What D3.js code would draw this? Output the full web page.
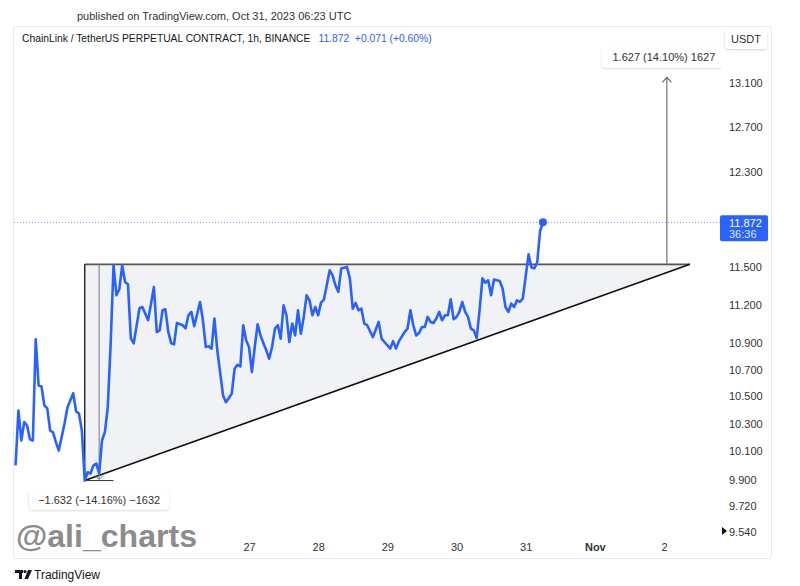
<!DOCTYPE html>
<html><head><meta charset="utf-8">
<script src="https://cdn.jsdelivr.net/npm/d3@7"></script>
<style>
html,body{margin:0;padding:0;background:#fff;}
svg{display:block;font-family:"Liberation Sans",Arial,sans-serif;}
</style></head><body>
<svg id="chart" width="800" height="586"></svg>
<script>
// ---------- data ----------
const startTime = Date.UTC(2023, 9, 23, 15); // first hourly bar
const hours = [0,1,2,3,4,5,6,7,8,9,10,11,12,13,14,15,17,18,20,21,22,23,24,25,26,27,28,29,30,31,32,33,34,35,36,37,38,39,40,41,43,44,46,48,49,50,51,52,53,54,55,56,58,59,60,61,62,64,65,66,67,68,69,70,72,73,75,76,77,78,79,80,81,82,83,84,85,86,87,88,89,90,91,92,93,94,95,96,97,98,99,100,101,102,103,104,105,106,107,109,110,111,112,113,115,116,117,118,119,120,121,122,124,126,127,128,130,131,132,133,135,136,137,138,139,140,141,142,143,144,145,146,147,148,149,150,151,152,153,154,155,156,157,158,159,160,161,162,163,164,165,166,167,168,169,170,171,172,173,174,175,176,177,178,179,180,181,182,183];
const prices = [10.00,10.395,10.177,10.31,10.285,10.184,10.177,10.931,10.58,10.573,10.432,10.41,10.249,10.235,10.165,10.105,10.30,10.417,10.523,10.388,10.373,10.249,9.893,9.951,9.942,9.998,10.013,9.944,10.177,10.237,10.42,10.90,11.517,11.276,11.324,11.517,11.382,11.364,10.938,10.90,11.173,11.183,11.079,11.342,10.987,11.00,11.157,11.165,10.987,10.90,10.892,11.058,11.04,11.016,11.118,11.144,11.032,11.223,11.079,10.872,10.877,10.859,11.092,10.846,10.506,10.456,10.518,10.706,10.736,10.723,11.04,10.923,10.872,10.68,10.872,11.048,10.961,10.90,10.846,10.782,10.872,11.013,11.04,10.936,11.196,11.118,10.91,11.053,10.961,11.157,10.974,11.105,11.276,11.236,11.118,11.183,11.118,11.218,11.242,11.477,11.436,11.356,11.303,11.491,11.504,11.412,11.17,11.215,11.157,11.17,11.053,11.04,10.948,11.066,10.936,10.91,10.859,10.917,10.859,10.915,10.987,11.013,11.157,11.04,10.961,10.979,11.026,11.026,11.105,11.066,11.058,11.092,11.144,11.079,11.118,11.118,11.244,11.087,11.105,11.144,11.223,11.144,11.105,11.013,11.00,10.94,11.157,11.412,11.377,11.396,11.276,11.402,11.396,11.391,11.33,11.183,11.144,11.21,11.183,11.236,11.223,11.25,11.425,11.607,11.50,11.493,11.54,11.80,11.872];

const priceTicks = [13.1, 12.7, 12.3, 11.5, 11.2, 10.9, 10.7, 10.5, 10.3, 10.1, 9.9, 9.72, 9.54];
const dayTicks = [Date.UTC(2023,9,27), Date.UTC(2023,9,28), Date.UTC(2023,9,29), Date.UTC(2023,9,30), Date.UTC(2023,9,31), Date.UTC(2023,10,1), Date.UTC(2023,10,2)];
const dayLabels = ["27", "28", "29", "30", "31", "Nov", "2"];

const triangleTimes = [Date.UTC(2023,9,24,15), Date.UTC(2023,10,2,9), Date.UTC(2023,9,24,15)];
const trianglePrices = [11.525, 11.525, 9.893];

const upMeasureTime = Date.UTC(2023, 10, 2, 1);
const upMeasurePrices = [11.525, 13.152];
const upMeasureLabel = "1.627 (14.10%) 1627";

const downMeasureTimes = [Date.UTC(2023,9,24,15), Date.UTC(2023,9,24,20), Date.UTC(2023,9,25,1)];
const downMeasurePrices = [11.525, 9.893];
const downMeasureLabel = "\u22121.632 (\u221214.16%) \u22121632";

const lastPrice = 11.872;
const countdown = "36:36";
const headerText = "published on TradingView.com, Oct 31, 2023 06:23 UTC";
const titleText = "ChainLink / TetherUS PERPETUAL CONTRACT, 1h, BINANCE";
const titleQuote = "11.872  +0.071 (+0.60%)";

// ---------- layout ----------
const svg = d3.select("#chart");
const pane = {left: 14, right: 721, top: 27, bottom: 536};
const BLUE = "#2962ff";
const TEXT = "#131722";

const x = d3.scaleUtc().domain([dayTicks[0], dayTicks[6]]).range([249, 664]);
const y = d3.scaleLog().domain([9.54, 13.1]).range([532, 83]);

const data = hours.map((h, i) => ({t: new Date(startTime + h * 3600e3), p: prices[i]}));

// frame
svg.append("rect").attr("x", 13.5).attr("y", 26.5).attr("width", 758).attr("height", 532)
  .attr("rx", 3).attr("fill", "#fff").attr("stroke", "#e6e8ee");

// header
svg.append("text").attr("x", 77).attr("y", 20).attr("font-size", 11).attr("fill", "#333")
  .text(headerText);
const title = svg.append("text").attr("x", 22).attr("y", 42).attr("font-size", 10.3).attr("fill", TEXT);
title.append("tspan").text(titleText);
title.append("tspan").attr("dx", 8).attr("fill", BLUE).attr("xml:space", "preserve").text(titleQuote);

// clip
svg.append("defs").append("clipPath").attr("id", "pane")
  .append("rect").attr("x", pane.left).attr("y", pane.top)
  .attr("width", pane.right - pane.left).attr("height", pane.bottom - pane.top);
svg.select("defs").append("clipPath").attr("id", "scale")
  .append("rect").attr("x", pane.right).attr("y", pane.top)
  .attr("width", 50).attr("height", pane.bottom - pane.top);
svg.select("defs").append("filter").attr("id", "sh").attr("x", "-20%").attr("y", "-40%").attr("width", "140%").attr("height", "180%")
  .append("feDropShadow").attr("dx", 0).attr("dy", 1).attr("stdDeviation", 1.2).attr("flood-color", "#000").attr("flood-opacity", 0.18);

const g = svg.append("g").attr("clip-path", "url(#pane)");

// triangle
const triPts = triangleTimes.map((t, i) => [x(t), y(trianglePrices[i])]);
g.append("path").attr("d", "M" + triPts.map(p => p.join(",")).join("L") + "Z")
  .attr("fill", "#f1f2f6").attr("stroke", "none");
g.append("line").attr("x1", triPts[0][0]).attr("y1", triPts[0][1]).attr("x2", triPts[1][0]).attr("y2", triPts[1][1])
  .attr("stroke", "#555").attr("stroke-width", 1.6);
g.append("line").attr("x1", triPts[1][0]).attr("y1", triPts[1][1]).attr("x2", triPts[2][0]).attr("y2", triPts[2][1])
  .attr("stroke", "#111").attr("stroke-width", 1.6);
g.append("line").attr("x1", triPts[2][0]).attr("y1", triPts[2][1]).attr("x2", triPts[0][0]).attr("y2", triPts[0][1])
  .attr("stroke", "#222").attr("stroke-width", 1.4);

// down measure
const dmX = downMeasureTimes.map(x);
const dmY = downMeasurePrices.map(y);
g.append("line").attr("x1", dmX[1]).attr("x2", dmX[1]).attr("y1", dmY[0]).attr("y2", dmY[1] - 1)
  .attr("stroke", "#777").attr("stroke-width", 1);
g.append("path").attr("d", `M${dmX[1]-4},${dmY[1]-5}L${dmX[1]},${dmY[1]-1}L${dmX[1]+4},${dmY[1]-5}`)
  .attr("fill", "none").attr("stroke", "#777").attr("stroke-width", 1);
g.append("line").attr("x1", dmX[0]).attr("x2", dmX[2]).attr("y1", dmY[1]).attr("y2", dmY[1])
  .attr("stroke", "#333").attr("stroke-width", 1);

// up measure
const umX = x(upMeasureTime);
const umY = upMeasurePrices.map(y);
g.append("line").attr("x1", umX).attr("x2", umX).attr("y1", umY[0]).attr("y2", umY[1])
  .attr("stroke", "#666").attr("stroke-width", 1.1);
g.append("path").attr("d", `M${umX-4.5},${umY[1]+5}L${umX},${umY[1]}L${umX+4.5},${umY[1]+5}`)
  .attr("fill", "none").attr("stroke", "#666").attr("stroke-width", 1.1);

// last price dotted line
g.append("line").attr("x1", pane.left).attr("x2", pane.right).attr("y1", y(lastPrice)).attr("y2", y(lastPrice))
  .attr("stroke", "#7e9cf5").attr("stroke-width", 1).attr("stroke-dasharray", "1,2");

// price line
g.append("path").datum(data)
  .attr("d", d3.line().x(d => x(d.t)).y(d => y(d.p)))
  .attr("fill", "none").attr("stroke", BLUE).attr("stroke-width", 2.6).attr("stroke-linejoin", "round");
g.append("circle").attr("cx", x(data[data.length - 1].t)).attr("cy", y(lastPrice)).attr("r", 4).attr("fill", BLUE);

// measure labels
function labelBox(parent, cx, cy, txt, w) {
  parent.append("rect").attr("x", cx - w / 2).attr("y", cy - 10).attr("width", w).attr("height", 20)
    .attr("rx", 3).attr("fill", "#fff").attr("filter", "url(#sh)");
  parent.append("text").attr("x", cx).attr("y", cy + 4).attr("text-anchor", "middle")
    .attr("font-size", 11).attr("fill", "#333").text(txt);
}
labelBox(g, umX - 3, umY[1] - 20, upMeasureLabel, 124);
labelBox(svg, dmX[1], dmY[1] + 19, downMeasureLabel, 140);

// watermark
svg.append("text").attr("x", 16).attr("y", 547).attr("font-size", 32).attr("font-weight", 700)
  .attr("fill", "#8c8c8c").attr("textLength", 181).attr("lengthAdjust", "spacingAndGlyphs")
  .text("@ali_charts");

// price axis
const yAxis = d3.axisRight(y).tickValues(priceTicks).tickFormat(d3.format(".3f")).tickSize(0).tickPadding(0);
const ya = svg.append("g").attr("clip-path", "url(#scale)").append("g").attr("transform", `translate(729,0)`).call(yAxis);
ya.select(".domain").remove();
ya.selectAll("text").attr("font-size", 11).attr("fill", "#333").attr("font-family", "Liberation Sans, Arial, sans-serif");
// small marker left of lowest tick
svg.append("path").attr("d", `M722,${y(9.54)-5}L727,${y(9.54)-1}L722,${y(9.54)+3}Z`).attr("fill", "#111")
  .attr("clip-path", "url(#scale)");

// USDT box
svg.append("rect").attr("x", 725).attr("y", 29).attr("width", 42).attr("height", 20).attr("rx", 3)
  .attr("fill", "#fff").attr("filter", "url(#sh)");
svg.append("text").attr("x", 746).attr("y", 43).attr("text-anchor", "middle").attr("font-size", 11)
  .attr("fill", "#333").text("USDT");

// last price badge
const ly = y(lastPrice);
svg.append("rect").attr("x", 720).attr("y", ly - 7).attr("width", 48).attr("height", 26).attr("rx", 2).attr("fill", BLUE);
svg.append("text").attr("x", 729).attr("y", ly + 5).attr("font-size", 11).attr("fill", "#fff").text(d3.format(".3f")(lastPrice));
svg.append("text").attr("x", 729).attr("y", ly + 16).attr("font-size", 11).attr("fill", "#dfe6ff").text(countdown);

// time axis
const xAxis = d3.axisBottom(x).tickValues(dayTicks).tickFormat((d, i) => dayLabels[i]).tickSize(0).tickPadding(0);
const xa = svg.append("g").attr("transform", `translate(0,${pane.bottom + 7})`).call(xAxis);
xa.select(".domain").remove();
xa.selectAll("text").attr("font-size", 11).attr("fill", "#333").attr("font-family", "Liberation Sans, Arial, sans-serif")
  .attr("font-weight", (d, i) => dayLabels[i] === "Nov" ? 700 : 400);

// TradingView footer logo
const logo = svg.append("g").attr("fill", TEXT);
logo.append("rect").attr("x", 15).attr("y", 570).attr("width", 8).attr("height", 3);
logo.append("rect").attr("x", 19).attr("y", 570).attr("width", 3).attr("height", 9);
logo.append("circle").attr("cx", 25).attr("cy", 571.6).attr("r", 1.6);
logo.append("path").attr("d", "M28,570L32,570L28,579L24.5,579Z");
svg.append("text").attr("x", 34).attr("y", 579).attr("font-size", 12).attr("fill", TEXT).text("TradingView");
</script>
</body></html>
